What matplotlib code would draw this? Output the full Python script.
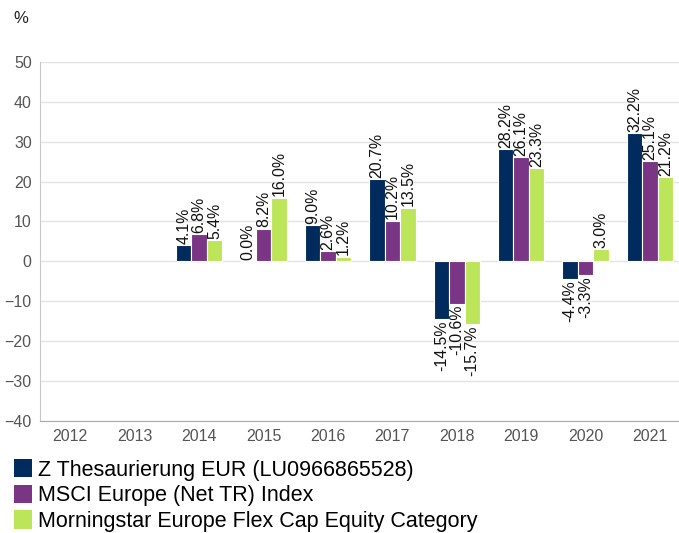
import numpy as np
import matplotlib.pyplot as plt
from matplotlib.patches import Patch

plt.rcParams['font.family'] = ['Liberation Sans', 'DejaVu Sans']

years = ["2012", "2013", "2014", "2015", "2016", "2017", "2018", "2019", "2020", "2021"]
fonds = [np.nan, np.nan, 4.1, 0.0, 9.0, 20.7, -14.5, 28.2, -4.4, 32.2]
msci = [np.nan, np.nan, 6.8, 8.2, 2.6, 10.2, -10.6, 26.1, -3.3, 25.1]
kategorie = [np.nan, np.nan, 5.4, 16.0, 1.2, 13.5, -15.7, 23.3, 3.0, 21.2]

namen = ["Z Thesaurierung EUR (LU0966865528)",
         "MSCI Europe (Net TR) Index",
         "Morningstar Europe Flex Cap Equity Category"]
farben = ["#002B5C", "#7B3585", "#BDE55A"]

fig = plt.figure(figsize=(6.79, 5.33), dpi=100)
ax = fig.add_axes([0.059, 0.21, 0.941, 0.674])

x = np.arange(len(years))
w = 0.24
for i, (werte, farbe) in enumerate(zip([fonds, msci, kategorie], farben)):
    pos = x + (i - 1) * w
    ax.bar(pos, werte, width=w, color=farbe, edgecolor="white", linewidth=0.8, zorder=3)
    for p, v in zip(pos, werte):
        if np.isnan(v):
            continue
        if v >= 0:
            ax.text(p, v + 0.3, f"{v:.1f}%", rotation=90, ha="center", va="bottom",
                    fontsize=11.4, color="#111111", zorder=4)
        else:
            ax.text(p, v - 0.3, f"{v:.1f}%", rotation=90, ha="center", va="top",
                    fontsize=11.4, color="#111111", zorder=4)

ax.set_ylim(-40, 50)
ax.set_yticks(range(-40, 51, 10))
ax.set_xlim(-0.47, 9.45)
ax.set_xticks(x)
ax.set_xticklabels(years)
ax.tick_params(axis="both", length=0, labelsize=11.5, colors="#555555")
ax.tick_params(axis="x", pad=6)
ax.tick_params(axis="y", pad=6)
ax.grid(axis="y", color="#E3E3E3", linewidth=1, zorder=0)
for s in ["top", "right"]:
    ax.spines[s].set_visible(False)
ax.spines["left"].set_color("#C8C8C8")
ax.spines["bottom"].set_color("#AAAAAA")

fig.text(0.019, 0.966, "%", fontsize=12, color="#222222", va="center")

handles = [Patch(facecolor=f, edgecolor="none") for f in farben]
fig.legend(handles, namen, loc="upper left", bbox_to_anchor=(0.02, 0.139),
           frameon=False, fontsize=15.5, handlelength=0.85, handleheight=0.95,
           handletextpad=0.3, labelspacing=0.19, borderaxespad=0, borderpad=0)

fig.savefig("out.png", dpi=100)
